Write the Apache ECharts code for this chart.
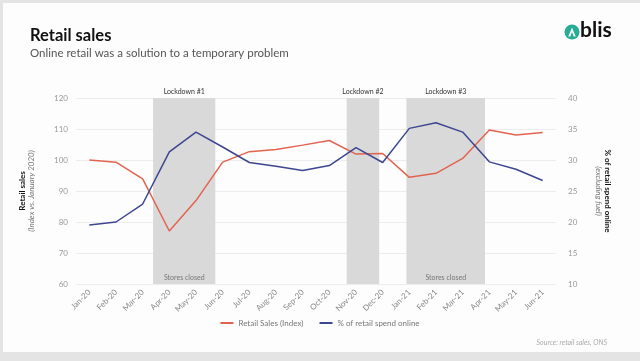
<!DOCTYPE html>
<html><head><meta charset="utf-8">
<script src="https://cdn.jsdelivr.net/npm/echarts@6/dist/echarts.min.js"></script>
<style>
html,body{margin:0;padding:0;background:#e4e4e4;}
#frame{position:absolute;left:3px;top:3px;width:637px;height:349px;background:#fdfdfd;}
#c{position:absolute;left:0;top:0;width:640px;height:361px;}
</style></head>
<body><div id="frame"></div><div id="c"></div>
<script>
const categories = ['Jan-20','Feb-20','Mar-20','Apr-20','May-20','Jun-20','Jul-20','Aug-20','Sep-20','Oct-20','Nov-20','Dec-20','Jan-21','Feb-21','Mar-21','Apr-21','May-21','Jun-21'];
const retailSales = [100, 99.3, 93.9, 77.1, 86.9, 99.3, 102.7, 103.4, 104.8, 106.3, 101.9, 102.1, 94.4, 95.7, 100.5, 109.7, 108.1, 108.9];
const onlineShare = [19.5, 20.0, 22.9, 31.3, 34.5, 32.1, 29.6, 29.0, 28.3, 29.1, 32.0, 29.6, 35.1, 36.0, 34.5, 29.7, 28.5, 26.7];
const lockdownNames = ['Lockdown #1','Lockdown #2','Lockdown #3'];
const lockdownStart = [2.4, 9.65, 11.9];
const lockdownEnd = [4.72, 10.87, 14.83];
const storesClosed = [true, false, true];
const leftTicks = {min:60, max:120, interval:10};
const rightTicks = {min:10, max:40, interval:5};

const FONT = 'Lato';
const RED = '#e2634f', BLUE = '#3d4690', SHADE = '#d9d9d9';

const chart = echarts.init(document.getElementById('c'));
chart.setOption({
  backgroundColor: 'transparent',
  textStyle: {fontFamily: FONT},
  title: {
    text: 'Retail sales', subtext: 'Online retail was a solution to a temporary problem',
    left: 25, top: 22, itemGap: 3,
    textStyle: {fontFamily: FONT, fontSize: 16.5, fontWeight: 'bold', color: '#111'},
    subtextStyle: {fontFamily: FONT, fontSize: 11.5, color: '#555'}
  },
  grid: {left: 76, right: 84, top: 98, bottom: 77},
  legend: {
    bottom: 29, left: 'center', icon: 'rect', itemWidth: 13, itemHeight: 2, itemGap: 16,
    textStyle: {fontFamily: FONT, fontSize: 8, color: '#777'},
    data: ['Retail Sales (Index)', '% of retail spend online']
  },
  xAxis: [{
    type: 'category', data: categories, boundaryGap: true,
    axisLine: {show: false}, axisTick: {show: false},
    axisLabel: {rotate: 45, fontSize: 8, color: '#888', margin: 7, interval: 0}
  }, {
    type: 'value', min: -0.5, max: categories.length - 0.5, show: false
  }],
  yAxis: [{
    type: 'value', min: leftTicks.min, max: leftTicks.max, interval: leftTicks.interval, position: 'left',
    axisLine: {show: false}, axisTick: {show: false},
    axisLabel: {fontSize: 8, color: '#999', margin: 8},
    splitLine: {lineStyle: {color: '#ececec'}},
    name: '{b|Retail sales}\n{i|(Index vs. January 2020)}', nameLocation: 'middle', nameGap: 40,
    nameTextStyle: {rich: {
      b: {fontFamily: FONT, fontSize: 8, fontWeight: 'bold', color: '#111', lineHeight: 9},
      i: {fontFamily: FONT, fontSize: 8, fontStyle: 'italic', color: '#777', lineHeight: 9}
    }}
  }, {
    type: 'value', min: rightTicks.min, max: rightTicks.max, interval: rightTicks.interval, position: 'right',
    axisLine: {show: false}, axisTick: {show: false},
    axisLabel: {fontSize: 8, color: '#999', margin: 12},
    splitLine: {show: false},
    name: '{b|% of retail spend online}\n{i|(excluding fuel)}', nameLocation: 'middle', nameGap: 38, nameRotate: -90,
    nameTextStyle: {rich: {
      b: {fontFamily: FONT, fontSize: 8, fontWeight: 'bold', color: '#111', lineHeight: 9},
      i: {fontFamily: FONT, fontSize: 8, fontStyle: 'italic', color: '#777', lineHeight: 9}
    }}
  }],
  series: [{
    type: 'line', xAxisIndex: 1, yAxisIndex: 0, data: [], silent: true, z: 1,
    markArea: {
      silent: true,
      itemStyle: {color: SHADE},
      label: {position: 'top', distance: 3, fontFamily: FONT, fontSize: 7, color: '#333'},
      data: lockdownNames.map((n, i) => [{name: n, xAxis: lockdownStart[i]}, {xAxis: lockdownEnd[i]}])
    }
  }, {
    type: 'line', xAxisIndex: 1, yAxisIndex: 0, data: [], silent: true, z: 1,
    markArea: {
      silent: true,
      itemStyle: {color: SHADE},
      label: {position: 'insideBottom', distance: 3, fontFamily: FONT, fontSize: 7, color: '#777'},
      data: lockdownNames.map((n, i) => storesClosed[i] ? [{name: 'Stores closed', xAxis: lockdownStart[i]}, {xAxis: lockdownEnd[i]}] : null).filter(Boolean)
    }
  }, {
    name: 'Retail Sales (Index)', type: 'line', yAxisIndex: 0, data: retailSales, z: 3,
    symbol: 'none', lineStyle: {color: RED, width: 1.5}, itemStyle: {color: RED}
  }, {
    name: '% of retail spend online', type: 'line', yAxisIndex: 1, data: onlineShare, z: 3,
    symbol: 'none', lineStyle: {color: BLUE, width: 1.5}, itemStyle: {color: BLUE}
  }],
  graphic: [
    {type: 'circle', shape: {cx: 572, cy: 32, r: 7.5}, style: {fill: '#27ad95'}},
    {type: 'polygon', shape: {points: [[568.3,36.5],[572,27.5],[575.7,36.5],[573.7,36.5],[572,32],[570.3,36.5]]}, style: {fill: '#fff'}},
    {type: 'text', left: 580, top: 20, style: {text: 'blis', fontFamily: FONT, fontSize: 21, fontWeight: 'bold', fill: '#111'}},
    {type: 'text', right: 33, top: 339, style: {text: 'Source: retail sales, ONS', fontFamily: FONT, fontSize: 7, fontStyle: 'italic', fill: '#aaa'}}
  ]
});
</script>
</body></html>
